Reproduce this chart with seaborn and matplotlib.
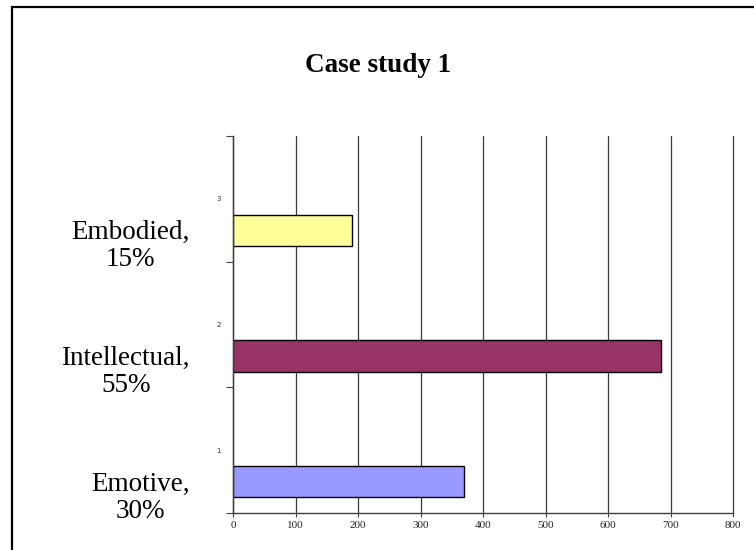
import matplotlib
matplotlib.use("Agg")
import matplotlib.pyplot as plt
import seaborn as sns
import pandas as pd
import numpy as np

# Share of responses per category (bottom to top)
categories = ["Emotive", "Intellectual", "Embodied"]
shares = ["30%", "55%", "15%"]
values = [370, 685, 190]
tick_labels = ["1", "2", "3"]
colors = ["#9999FF", "#993366", "#FFFF99"]
x_ticks = [0, 100, 200, 300, 400, 500, 600, 700, 800]

sns.set_theme(style="white")
plt.rcParams["font.family"] = ["Liberation Serif", "DejaVu Serif"]

fig = plt.figure(figsize=(7.54, 5.5), dpi=100)
ax = fig.add_axes([233 / 754, 37 / 550, 500 / 754, 377 / 550])

# bars sit in the lower half of each category slot
slot = np.arange(1, len(categories) + 1)
bar_pos = slot - 0.25
df = pd.DataFrame({"value": values, "pos": bar_pos, "cat": categories})
sns.barplot(data=df, x="value", y="pos", hue="cat",
            palette=dict(zip(categories, colors)), orient="h",
            native_scale=True, width=0.25, dodge=False, saturation=1,
            edgecolor="black", linewidth=1, legend=False, ax=ax)

ax.set_xlim(x_ticks[0], x_ticks[-1])
ax.set_ylim(0.5, len(categories) + 0.5)
ax.set_xlabel("")
ax.set_ylabel("")

# x axis: ticks, labels and vertical gridlines
ax.set_xticks(x_ticks)
ax.set_xticklabels([str(t) for t in x_ticks], fontsize=8)
ax.tick_params(axis="x", which="major", length=3, width=0.8, direction="out",
               bottom=True, color="#404040", pad=3)
ax.grid(axis="x", color="#3a3a3a", linewidth=0.9)
ax.grid(axis="y", visible=False)
for gl in ax.get_xgridlines():
    gl.set_clip_on(False)
ax.set_axisbelow(True)

# y axis: tick marks between slots, numbers at slot centres
ax.set_yticks(np.arange(0.5, len(categories) + 1, 1.0))
ax.set_yticklabels([])
ax.set_yticks(slot, minor=True)
ax.set_yticklabels(tick_labels, minor=True, fontsize=5, fontfamily="DejaVu Sans",
                   color="#333333")
ax.tick_params(axis="y", which="major", length=5, width=0.8, direction="out",
               left=True, color="#404040")
ax.tick_params(axis="y", which="minor", length=0, pad=9, left=True)

for side in ["top", "right"]:
    ax.spines[side].set_visible(False)
for side in ["left", "bottom"]:
    ax.spines[side].set_color("#404040")
    ax.spines[side].set_linewidth(1.0)

# category labels beside each bar
for cat, share, y in zip(categories, shares, bar_pos):
    ax.annotate(f"{cat},\n{share}", xy=(0, y), xytext=(-43, -16),
                textcoords="offset pixels", ha="right", va="center",
                multialignment="center", fontsize=19.5, linespacing=1.12,
                color="black", annotation_clip=False)

fig.text(378 / 754, 1 - 66 / 550, "Case study 1", ha="center", va="center",
         fontsize=19.5, fontweight="bold", color="black")

# outer frame
frame = plt.Rectangle((12 / 754, -0.1), 1.2, (550 - 7) / 550 + 0.1,
                      transform=fig.transFigure, fill=False,
                      edgecolor="black", linewidth=1.6, clip_on=False)
fig.add_artist(frame)

fig.savefig("out.png", dpi=100)
